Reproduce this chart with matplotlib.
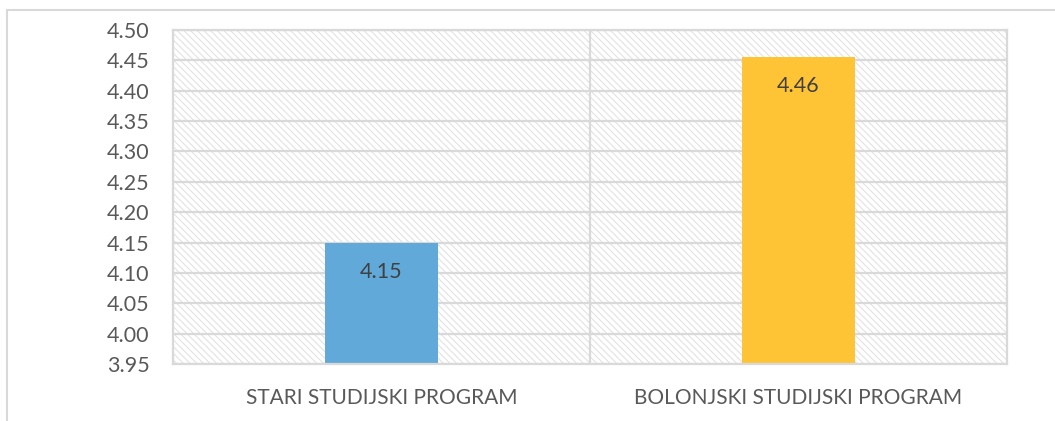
import matplotlib
matplotlib.use("Agg")
import matplotlib.pyplot as plt
from matplotlib.patches import Rectangle
from matplotlib.lines import Line2D

categories = ["STARI STUDIJSKI PROGRAM", "BOLONJSKI STUDIJSKI PROGRAM"]
values = [4.15, 4.456]
labels = ["4.15", "4.46"]
colors = ["#61a9d9", "#ffc435"]
yticks = [3.95, 4.00, 4.05, 4.10, 4.15, 4.20, 4.25, 4.30, 4.35, 4.40, 4.45, 4.50]

plt.rcParams['font.family'] = ['Lato', 'DejaVu Sans']
plt.rcParams['hatch.linewidth'] = 0.8

W, H = 1055, 421
fig = plt.figure(figsize=(W/100, H/100), dpi=100)
ax = fig.add_axes([173/W, 1-364/H, (1007-173)/W, (364-30)/H])

grid_c = "#d9d9d9"
ax.set_xlim(-0.5, 1.5)
ax.set_ylim(3.95, 4.50)

# hatched background
bg = Rectangle((0, 0), 1, 1, transform=ax.transAxes, facecolor="white",
               edgecolor="#e2e2e2", linewidth=0, hatch="\\\\\\\\\\", zorder=0)
ax.add_patch(bg)

for y in yticks:
    ax.axhline(y, color=grid_c, lw=1.6, zorder=1)
ax.axvline(0.5, color=grid_c, lw=1.6, zorder=1)

x = list(range(len(categories)))
ax.bar(x, [v - 3.95 for v in values], bottom=3.95, width=0.273, color=colors, zorder=2)
for xi, v, lab in zip(x, values, labels):
    ax.annotate(lab, (xi, v), xytext=(0, -21), textcoords="offset points",
                ha="center", va="center", fontsize=15.5, color="#404040", zorder=3)

ax.set_yticks(yticks)
ax.set_yticklabels([f"{t:.2f}" for t in yticks], fontsize=15.5, color="#595959")
ax.set_xticks(x)
ax.set_xticklabels(categories, fontsize=15, color="#595959")
ax.tick_params(axis="both", length=0)
ax.tick_params(axis="y", pad=17)
ax.tick_params(axis="x", pad=17)
for s in ax.spines.values():
    s.set_color(grid_c)
    s.set_linewidth(1.6)

# outer chart border
fig.add_artist(Line2D([7/W, 1], [1-10/H, 1-10/H], color=grid_c, lw=1.5, transform=fig.transFigure))
fig.add_artist(Line2D([7/W, 7/W], [0, 1-10/H], color=grid_c, lw=1.5, transform=fig.transFigure))

fig.savefig("out.png", dpi=100, facecolor="white")
